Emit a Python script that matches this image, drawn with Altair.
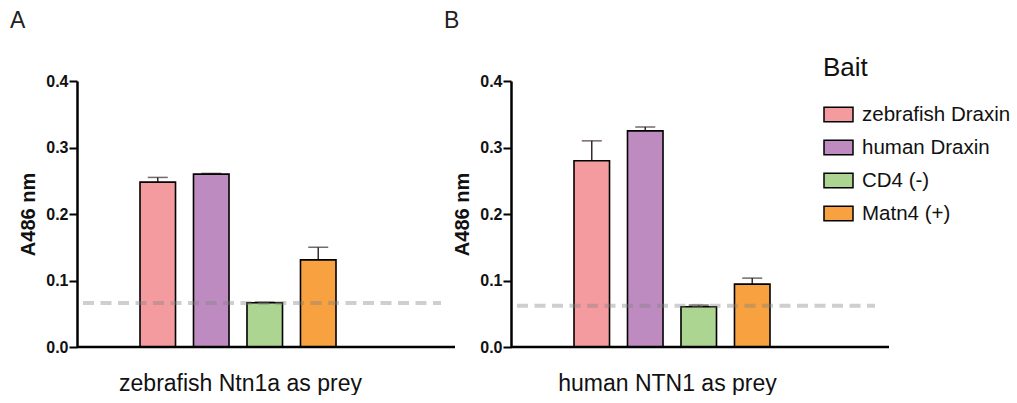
import altair as alt
import pandas as pd

# ---- data ----
baits = ["zebrafish Draxin", "human Draxin", "CD4 (-)", "Matn4 (+)"]
colors = ["#F49B9F", "#BE8BC0", "#ACD591", "#F7A141"]

# panel A: zebrafish Ntn1a as prey
a_mean = [0.248, 0.260, 0.0665, 0.131]
a_top = [0.255, 0.261, 0.0675, 0.150]
a_threshold = 0.066

# panel B: human NTN1 as prey
b_mean = [0.280, 0.325, 0.0605, 0.0946]
b_top = [0.310, 0.331, 0.063, 0.1036]
b_threshold = 0.062

y_ticks = [0.0, 0.1, 0.2, 0.3, 0.4]

FONT = "Liberation Sans"
W, H = 378, 266


def panel(letter, title, means, tops, threshold, title_x, show_legend):
    df = pd.DataFrame({"bait": baits, "mean": means, "top": tops})
    xenc = alt.X(
        "bait:N",
        sort=baits,
        scale=alt.Scale(range=[63, 259], paddingInner=0.336, paddingOuter=0),
        axis=alt.Axis(
            title=title, labels=False, ticks=False, domain=False, grid=False,
            titleFont=FONT, titleFontSize=23, titleFontWeight="normal",
            titleColor="#111", titlePadding=25, titleX=title_x,
        ),
    )
    yscale = alt.Scale(domain=[0, 0.4], nice=False)
    yaxis = alt.Axis(
        title="A486 nm", values=y_ticks, format=".1f", grid=False,
        domainColor="black", domainWidth=2.5, tickColor="black",
        tickWidth=2, tickSize=8, labelPadding=1,
        labelFont=FONT, labelFontSize=16, labelFontWeight="bold",
        labelColor="#111", titleFont=FONT, titleFontSize=20,
        titleFontWeight="bold", titleColor="#111", titlePadding=7,
    )
    legend = (
        alt.Legend(
            title="Bait", orient="none", legendX=746, legendY=-26,
            titleFont=FONT, titleFontSize=26, titleFontWeight="normal",
            titleColor="#111", titleAnchor="start", titlePadding=18,
            labelFont=FONT, labelFontSize=20.5, labelColor="#111",
            labelOffset=8, symbolType="M-1,-0.5H1V0.5H-1Z",
            symbolSize=841, symbolStrokeColor="black",
            symbolStrokeWidth=1.5, symbolOpacity=1, rowPadding=7,
            padding=0,
        )
        if show_legend
        else None
    )
    color = alt.Color(
        "bait:N",
        sort=baits,
        scale=alt.Scale(domain=baits, range=colors),
        legend=legend,
    )
    base = alt.Chart(df)
    err = base.mark_rule(color="#3a2a2a", strokeWidth=1.5).encode(
        x=xenc, y=alt.Y("mean:Q", scale=yscale, axis=yaxis), y2="top:Q"
    )
    cap = base.mark_tick(color="#3a2a2a", thickness=1.5, size=20).encode(
        x=xenc, y=alt.Y("top:Q", scale=yscale)
    )
    bars = base.mark_bar(stroke="black", strokeWidth=1.6, opacity=1).encode(
        x=xenc, y=alt.Y("mean:Q", scale=yscale, axis=yaxis), color=color
    )
    baseline = alt.Chart(pd.DataFrame({"z": [0.0]})).mark_rule(
        color="black", strokeWidth=2.5
    ).encode(y=alt.Y("z:Q", scale=yscale), x=alt.value(0), x2=alt.value(W))
    thr = alt.Chart(pd.DataFrame({"t": [threshold]})).mark_rule(
        color="#808080", opacity=0.38, strokeWidth=4, strokeDash=[11, 6.5]
    ).encode(y=alt.Y("t:Q", scale=yscale), x=alt.value(6), x2=alt.value(364))
    lab = alt.Chart(pd.DataFrame({"l": [letter]})).mark_text(
        font=FONT, fontSize=23, align="left", baseline="alphabetic",
        color="#222",
    ).encode(text="l:N", x=alt.value(-67), y=alt.value(-53))
    return alt.layer(err, cap, bars, baseline, thr, lab).properties(
        width=W, height=H,
        view=alt.ViewBackground(stroke="transparent", strokeWidth=0),
    )


pa = panel("A", "zebrafish Ntn1a as prey", a_mean, a_top, a_threshold, 163, True)
pb = panel("B", "human NTN1 as prey", b_mean, b_top, b_threshold, 156, False)

chart = (
    alt.hconcat(pa, pb, spacing=56, bounds="flush")
    .properties(padding={"left": 10, "top": 10, "right": 0, "bottom": 0})
    .configure_view(strokeWidth=0, stroke="transparent")
    .configure_axis(grid=False)
    .configure(background="white", style={"cell": {"stroke": "transparent"}})
)

chart.save("out.html", embed_options={"renderer": "svg", "actions": False})
